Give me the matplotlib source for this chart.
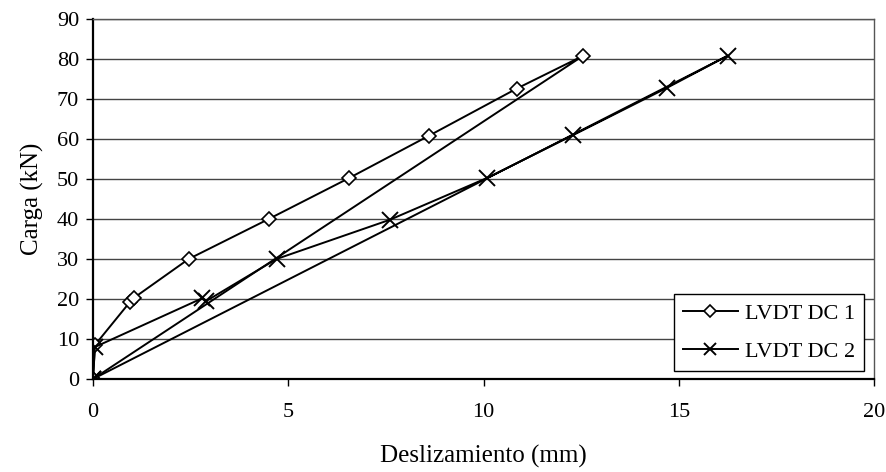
import matplotlib
matplotlib.use("Agg")
import matplotlib.pyplot as plt

# LVDT DC 1: carga y descarga
dc1_x = [0, 0.05, 0.95, 1.05, 2.45, 4.5, 6.55, 8.6, 10.85, 12.55, 0]
dc1_y = [0, 8.5, 19.3, 20.3, 30, 40, 50.2, 60.8, 72.6, 80.8, 0]
# LVDT DC 2
dc2_x = [0, 0.05, 2.8, 2.9, 4.7, 7.6, 10.1, 12.3, 14.7, 16.25, 0]
dc2_y = [0, 8, 20.2, 19.5, 30, 39.8, 50.3, 61, 72.8, 80.8, 0]

x_ticks = [0, 5, 10, 15, 20]
y_ticks = list(range(0, 91, 10))

plt.rcParams["font.family"] = ["Liberation Serif", "DejaVu Serif"]

fig = plt.figure(figsize=(8.87, 4.72), dpi=100)
ax = fig.add_axes([93/887, 93/472, 781/887, 360/472])

ax.plot(dc1_x, dc1_y, "k-", lw=1.4, marker="D", ms=7, mfc="white", mec="k", mew=1.2,
        label="LVDT DC 1")
ax.plot(dc2_x, dc2_y, "k-", lw=1.4, marker="x", ms=11, mec="k", mew=1.4,
        label="LVDT DC 2")

ax.set_xlim(0, 20)
ax.set_ylim(0, 90)
ax.set_xticks(x_ticks)
ax.set_yticks(y_ticks)
ax.tick_params(direction="out", length=5, width=1, labelsize=16)
ax.tick_params(axis="x", pad=12)
ax.tick_params(axis="y", pad=5)
ax.yaxis.grid(True, color="#444444", lw=1.0)
ax.set_axisbelow(True)
for s in ["top", "right"]:
    ax.spines[s].set_color("#555555")
    ax.spines[s].set_linewidth(1.0)
for s in ["left", "bottom"]:
    ax.spines[s].set_color("black")
    ax.spines[s].set_linewidth(1.6)

ax.set_xlabel("Deslizamiento (mm)", fontsize=18, labelpad=17)
ax.set_ylabel("Carga (kN)", fontsize=18, labelpad=9)

leg = ax.legend(loc="lower right", fontsize=16, frameon=True, fancybox=False,
                edgecolor="black", framealpha=1, handlelength=2.5,
                borderpad=0.4, labelspacing=0.8, handletextpad=0.3,
                borderaxespad=0, bbox_to_anchor=(0.987, 0.022),
                markerscale=0.85)
leg.get_frame().set_linewidth(1.0)

fig.savefig("out.png", dpi=100)
